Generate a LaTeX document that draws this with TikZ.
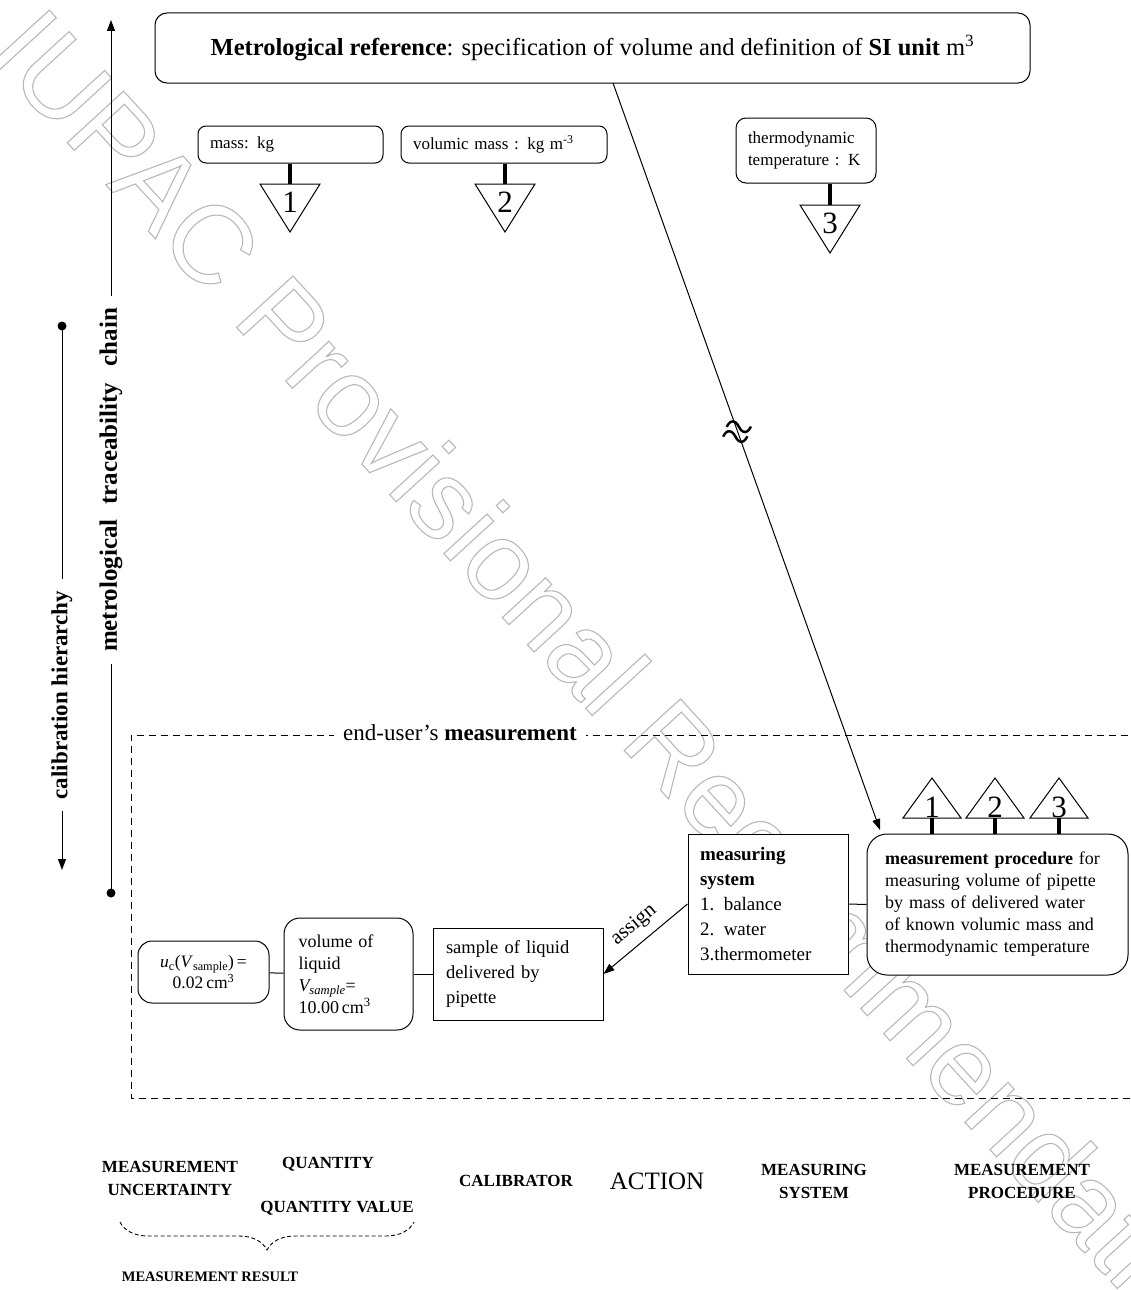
\documentclass[tikz,border=0pt]{standalone}
\usepackage{fontspec}
\setmainfont{Liberation Serif}
\newfontfamily\wmfont{Liberation Sans}
\usetikzlibrary{arrows.meta,calc,decorations.pathreplacing}
\newcommand\fsz[2]{\fontsize{#1}{#2}\selectfont}
% hollow (stroked) glyphs for the background lettering
\newcommand\outlined[1]{\special{pdf:literal direct 1 Tr 1.1 w}#1\special{pdf:literal direct 0 Tr}}

\begin{document}
\begin{tikzpicture}[x=1pt,y=-1pt,
  box/.style={draw, line width=1pt, fill=white, inner sep=0pt, align=left},
  rbox/.style={box, rounded corners=10pt},
  stem/.style={line width=3.5pt},
  tri/.style={draw, line width=1pt, fill=white},
  digit/.style={font=\fsz{31}{31}, inner sep=0pt},
  arr/.style={line width=1pt, -{Triangle[length=11pt,width=8pt]}},
  side/.style={rotate=90, font=\bfseries\fsz{23}{23}, inner xsep=12pt, inner ysep=0pt},
  lbl/.style={font=\bfseries\fsz{17}{23}, align=center, inner sep=0pt},
]
\useasboundingbox (0,0) rectangle (1131,1290);

% background lettering
\node[rotate=-47.5, anchor=base west, inner sep=0pt, text=black!28,
      font=\wmfont\fsz{111}{111}] (wm) at (-14,54)
  {\outlined{IUPAC Provisional Recommendations}};

% ---------- metrological reference and base quantities ----------
\node[rbox, rounded corners=12pt, minimum width=875pt, minimum height=70pt,
      align=center, font=\fsz{24.5}{28}] (ref) at (592.5,48)
  {\textbf{Metrological reference}: specification of volume and definition of \textbf{SI unit} m\textsuperscript{3}};

\node[rbox, rounded corners=8pt, minimum width=185pt, minimum height=37pt,
      text width=161pt, font=\fsz{17}{21}] (m1) at (290.5,144.5) {mass: kg};
\node[rbox, rounded corners=8pt, minimum width=206pt, minimum height=37pt,
      text width=182pt, font=\fsz{17}{21}] (m2) at (504,144.5) {volumic mass : kg m\textsuperscript{-3}};
\node[rbox, rounded corners=10pt, minimum width=140pt, minimum height=65pt,
      text width=116pt, font=\fsz{17}{22}] (m3) at (806,150.5) {thermodynamic\\temperature : K};

% downward triangles under the base quantities
\coordinate (d1) at (290,184);
\coordinate (d2) at (505,184);
\coordinate (d3) at (830,205);
\foreach \t in {d1,d2,d3}{
  \draw[tri] ($(\t)+(-30,0)$) -- ($(\t)+(30,0)$) -- ($(\t)+(0,48)$) -- cycle;
}
\node[digit] (n1) at ($(d1)+(0,18)$) {1};
\node[digit] (n2) at ($(d2)+(0,18)$) {2};
\node[digit] (n3) at ($(d3)+(0,18)$) {3};
\draw[stem] (m1.south -| d1) -- (d1);
\draw[stem] (m2.south -| d2) -- (d2);
\draw[stem] (m3.south -| d3) -- (d3);

% ---------- hierarchy and chain ----------
\coordinate (tcTop) at (111,20);
\coordinate (tcBot) at (111,893);
\node[side, font=\bfseries\fsz{25}{25}] (tc) at (111,480)
  {metrological\hspace{8pt} traceability\hspace{10pt} chain};
\draw[arr] (tc.east) -- (tcTop);
\draw[line width=1pt] (tc.west) -- (tcBot);
\fill (tcBot) circle (4.5pt);

\coordinate (chTop) at (62,326);
\coordinate (chBot) at (62,870);
\node[side] (ch) at (62,695) {calibration hierarchy};
\draw[line width=1pt] (chTop) -- (ch.east);
\draw[arr] (ch.west) -- (chBot);
\fill (chTop) circle (4.5pt);

% ---------- end-user's measurement ----------
\draw[line width=1pt, dash pattern=on 7pt off 5pt]
  (1140,735) -- (131,735) -- (131,1098) -- (1140,1098);
\node[fill=white, inner xsep=9pt, font=\fsz{23}{23}] (eu) at (460,733)
  {end-user’s \textbf{measurement}};

\node[rbox, rounded corners=14pt, minimum width=131pt, minimum height=62pt,
      align=center, font=\fsz{17.5}{21}] (uc) at (203.5,972)
  {\textit{u}\textsubscript{c}(\textit{V}\textsubscript{sample})\,=\\0.02\,cm\textsuperscript{3}};
\node[rbox, rounded corners=16pt, minimum width=129pt, minimum height=112pt,
      text width=100pt, font=\fsz{18}{22}] (vol) at (348.5,974)
  {volume of\\liquid\\\textit{V\textsubscript{sample}}=\\10.00\,cm\textsuperscript{3}};
\node[box, minimum width=170pt, minimum height=92pt,
      text width=144pt, font=\fsz{18.5}{25}] (smp) at (518,974)
  {sample of liquid\\delivered by\\pipette};
\node[box, minimum width=160pt, minimum height=140pt,
      text width=136pt, font=\fsz{19}{25}] (sys) at (768,904)
  {\textbf{measuring}\\\textbf{system}\\1. balance\\2. water\\3.thermometer};
\node[rbox, rounded corners=20pt, minimum width=261pt, minimum height=141pt,
      text width=225pt, font=\fsz{18}{22}] (proc) at (997.5,904.5)
  {\textbf{measurement procedure} for\\measuring volume of pipette\\by mass of delivered water\\of known volumic mass and\\thermodynamic temperature};

\draw[line width=1pt] (uc) -- (vol);
\draw[line width=1pt] (vol) -- (smp);
\draw[line width=1pt] (sys.east) -- (proc.west);
\draw[arr] (sys.west) -- node[sloped, above=5pt, font=\fsz{21}{21}] (asg) {assign} (smp.east);

% upward triangles on the measurement procedure
\coordinate (u1) at (932,818);
\coordinate (u2) at (995,818);
\coordinate (u3) at (1059,818);
\foreach \t in {u1,u2,u3}{
  \draw[tri] ($(\t)+(-29,0)$) -- ($(\t)+(29,0)$) -- ($(\t)+(0,-40)$) -- cycle;
}
\node[digit] (p1) at ($(u1)+(0,-11)$) {1};
\node[digit] (p2) at ($(u2)+(0,-11)$) {2};
\node[digit] (p3) at ($(u3)+(0,-11)$) {3};
\draw[stem] (proc.north -| u1) -- (u1);
\draw[stem] (proc.north -| u2) -- (u2);
\draw[stem] (proc.north -| u3) -- (u3);

% realisation of the reference down to the procedure
\coordinate (rs) at (613,83);
\coordinate (re) at (880,830);
\draw[arr] (rs) -- (re);
\node[font=\fsz{52}{52}, rotate=-20, inner sep=0pt] (apx) at (736,436) {≈};

% ---------- legend ----------
\node[lbl] (mu) at (170,1178) {MEASUREMENT\\UNCERTAINTY};
\node[lbl] (q) at (328,1164) {QUANTITY};
\node[lbl] (qv) at (337,1208) {QUANTITY VALUE};
\node[lbl] (cal) at (516,1181) {CALIBRATOR};
\node[font=\fsz{25}{25}, inner sep=0pt] (act) at (657,1181) {ACTION};
\node[lbl] (msy) at (814,1181) {MEASURING\\SYSTEM};
\node[lbl] (mpr) at (1022,1181) {MEASUREMENT\\PROCEDURE};
\coordinate (bl) at (120,1222);
\coordinate (br) at (414,1222);
\draw[line width=0.9pt, dash pattern=on 4pt off 2.5pt, decorate,
      decoration={brace, mirror, amplitude=28pt}] (bl) -- (br);
\node[lbl, font=\bfseries\fsz{14.5}{20}] (mres) at (210,1277) {MEASUREMENT RESULT};
\end{tikzpicture}
\end{document}
